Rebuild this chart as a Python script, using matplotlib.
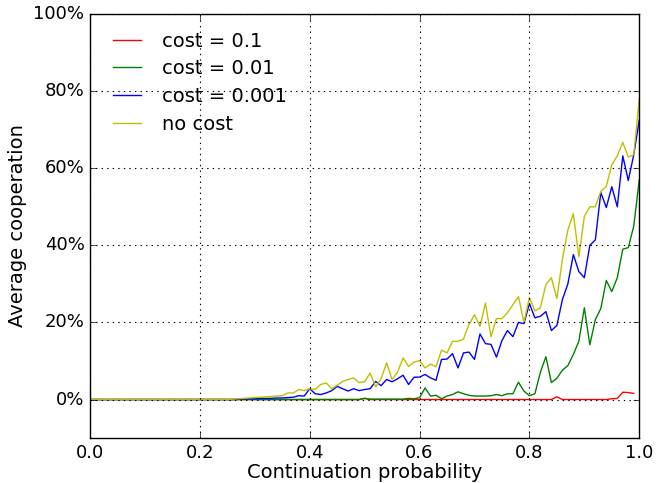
import numpy as np
import matplotlib
matplotlib.use('Agg')
import matplotlib.pyplot as plt

# probabilidad de continuacion (paso 0.01)
p = np.round(np.arange(0, 101) * 0.01, 2)

# cooperacion media en %
coop_no_cost = [0.0] * 26 + [
    0.1, 0.2, 0.3, 0.4, 0.5, 0.6, 0.7, 0.8, 0.9, 1.0,
    1.7, 1.7, 2.6, 2.3, 2.8, 2.6, 3.9, 4.3, 2.8, 3.7,
    4.7, 5.2, 5.6, 4.4, 4.6, 6.9, 3.3, 5.4, 9.5, 5.2,
    7.1, 10.8, 8.6, 9.7, 10.1, 8.2, 9.2, 8.5, 12.8, 12.1,
    15.1, 15.1, 15.7, 19.5, 22.0, 19.0, 25.0, 16.3, 21.0, 21.0,
    22.5, 24.6, 26.7, 20.0, 26.5, 23.0, 23.8, 29.8, 31.6, 26.2,
    36.3, 44.0, 48.2, 37.0, 47.5, 50.0, 50.0, 54.0, 55.3, 60.9,
    63.2, 66.7, 62.9, 63.5, 78.0]

coop_0001 = [0.0] * 27 + [
    0.05, 0.1, 0.2,
    0.2, 0.3, 0.3, 0.3, 0.4, 0.4, 0.5, 0.6, 1.0, 0.9,
    2.8, 1.5, 1.3, 1.7, 2.3, 3.4, 2.8, 2.2, 2.8, 2.3,
    2.6, 2.8, 4.7, 3.6, 5.2, 4.6, 5.4, 6.3, 3.9, 5.8,
    5.8, 6.5, 5.6, 5.0, 10.4, 10.5, 11.9, 8.2, 12.1, 12.3,
    10.4, 17.0, 14.5, 14.3, 11.0, 15.3, 17.9, 16.3, 20.0, 19.7,
    24.9, 21.2, 21.6, 22.8, 17.9, 19.2, 25.9, 30.0, 37.6, 33.2,
    31.6, 40.0, 41.4, 53.7, 49.8, 55.2, 50.0, 63.2, 56.8, 63.5,
    72.5]

coop_001 = [0.0] * 50 + [
    0.3, 0.1, 0.1, 0.1, 0.1, 0.1, 0.1, 0.1, 0.3, 0.2,
    0.5, 3.0, 0.9, 1.1, 0.2, 0.9, 1.3, 2.0, 1.5, 1.1,
    0.9, 0.9, 0.9, 1.0, 1.3, 1.0, 1.5, 1.5, 4.5, 2.2,
    1.0, 1.5, 7.1, 11.1, 4.4, 5.5, 7.6, 8.8, 11.7, 15.1,
    23.8, 14.2, 20.7, 23.6, 30.9, 28.0, 31.6, 39.0, 39.4, 45.0,
    57.0]

# la serie roja termina en 0.99
coop_01 = [0.0] * 50 + [0.3] + [0.0] * 34 + [0.7] + [0.0] * 9 + [0.2, 0.3, 1.9, 1.8, 1.6]

etiquetas = ['cost = 0.1', 'cost = 0.01', 'cost = 0.001', 'no cost']
yticks = [0, 20, 40, 60, 80, 100]

plt.style.use('classic')
fig = plt.figure(figsize=(6.57, 4.83), dpi=100, facecolor='white')
ax = fig.add_axes([0.137, 0.093, 0.836, 0.878])

ax.plot(p[:len(coop_01)], coop_01, color='r', lw=1, label=etiquetas[0])
ax.plot(p, coop_001, color='g', lw=1, label=etiquetas[1])
ax.plot(p, coop_0001, color='b', lw=1, label=etiquetas[2])
ax.plot(p, coop_no_cost, color='y', lw=1, label=etiquetas[3])

ax.set_xlim(0, 1)
ax.set_ylim(-10, 100)
ax.set_yticks(yticks)
ax.set_yticklabels([f'{t}%' for t in yticks])
ax.tick_params(labelsize=13)
ax.grid(True, color='k', linestyle=':', linewidth=0.8)

ax.set_xlabel('Continuation probability', fontsize=14, labelpad=1)
ax.set_ylabel('Average cooperation', fontsize=14)
ax.legend(loc='upper left', frameon=False, fontsize=14, handlelength=2, labelspacing=0.45)

fig.savefig('out.png', dpi=100, facecolor='white')
